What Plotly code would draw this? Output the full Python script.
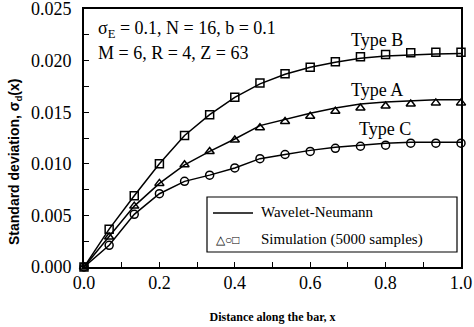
import plotly.graph_objects as go

x_pts = [0.0, 0.0667, 0.1333, 0.2, 0.2667, 0.3333, 0.4, 0.4667, 0.5333, 0.6, 0.6667, 0.7333, 0.8, 0.8667, 0.9333, 1.0]

sim_B = [0.0, 0.00367, 0.0069, 0.0100, 0.01274, 0.01476, 0.01644, 0.01784, 0.01872, 0.01936, 0.01988, 0.02037, 0.0206, 0.02076, 0.02082, 0.02082]
sim_A = [0.0, 0.0029, 0.0059, 0.0081, 0.0099, 0.0112, 0.0123, 0.0135, 0.0141, 0.0146, 0.0151, 0.0154, 0.0156, 0.0158, 0.0159, 0.0159]
sim_C = [0.0, 0.0021, 0.0051, 0.0071, 0.0083, 0.0089, 0.0096, 0.0105, 0.0109, 0.0112, 0.0115, 0.0117, 0.0118, 0.0120, 0.0120, 0.0120]

wn_B = [0.0, 0.00367, 0.0069, 0.0100, 0.01274, 0.01476, 0.01644, 0.01775, 0.01868, 0.01935, 0.01985, 0.02022, 0.02045, 0.02058, 0.02065, 0.02068]
wn_A = [0.0, 0.0029, 0.0059, 0.0081, 0.0099, 0.0112, 0.0124, 0.0137, 0.0143, 0.0149, 0.0154, 0.0158, 0.0160, 0.0161, 0.0162, 0.0162]
wn_C = [0.0, 0.0021, 0.0051, 0.0071, 0.0083, 0.0089, 0.0096, 0.0105, 0.0109, 0.0113, 0.0116, 0.0118, 0.0120, 0.0121, 0.0121, 0.0121]

y_ticks = [0.0, 0.005, 0.010, 0.015, 0.020, 0.025]
y_labels = ["0.000", "0.005", "0.010", "0.015", "0.020", "0.025"]
x_ticks = [0.0, 0.2, 0.4, 0.6, 0.8, 1.0]
x_labels = ["0.0", "0.2", "0.4", "0.6", "0.8", "1.0"]

SERIF = "Liberation Serif, Times New Roman, serif"
SANS = "Liberation Sans, Arial, sans-serif"

fig = go.Figure()
for wn in (wn_B, wn_A, wn_C):
    fig.add_trace(go.Scatter(x=x_pts, y=wn, mode="lines",
                             line=dict(color="black", width=1.5), showlegend=False))
for sim, sym in ((sim_B, "square-open"), (sim_A, "triangle-up-open"), (sim_C, "circle-open")):
    fig.add_trace(go.Scatter(x=x_pts, y=sim, mode="markers",
                             marker=dict(symbol=sym, size=8, color="black",
                                         line=dict(color="black", width=1.5)),
                             showlegend=False, cliponaxis=False))

W, H = 474, 327
L, R, T, B = 84, 13, 9, 60
pw, ph = W - L - R, H - T - B

def px(xp):
    return (xp - L) / pw

def py(yp):
    return 1 - (yp - T) / ph

annos = [
    dict(text="σ<sub>E</sub> = 0.1, N = 16, b = 0.1", x=px(96), y=py(29), size=18),
    dict(text="M = 6, R = 4, Z = 63", x=px(96), y=py(53), size=18),
    dict(text="Type B", x=px(349), y=py(40), size=18),
    dict(text="Type A", x=px(349), y=py(90), size=18),
    dict(text="Type C", x=px(357), y=py(129), size=18),
    dict(text="Wavelet-Neumann", x=px(259), y=py(212), size=15),
    dict(text="Simulation (5000 samples)", x=px(259), y=py(239), size=15),
    dict(text="△○□", x=px(214), y=py(240), size=12),
]
for a in annos:
    fig.add_annotation(text=a["text"], x=a["x"], y=a["y"], xref="paper", yref="paper",
                       xanchor="left", yanchor="middle", showarrow=False,
                       font=dict(family=SERIF, size=a["size"], color="black"))

# y-axis title
fig.add_annotation(text="<b>Standard deviation, σ<sub>d</sub>(x)</b>", x=px(15), y=py(162),
                   xref="paper", yref="paper", xanchor="center", yanchor="middle",
                   textangle=-90, showarrow=False,
                   font=dict(family=SANS, size=14, color="black"))

fig.add_shape(type="rect", xref="paper", yref="paper", x0=px(207), x1=px(457), y0=py(252), y1=py(197),
              line=dict(color="black", width=1.2), fillcolor="white", layer="below")
fig.add_shape(type="line", xref="paper", yref="paper", x0=px(213), x1=px(253), y0=py(213), y1=py(213),
              line=dict(color="black", width=1.5))

fig.update_layout(
    width=W, height=H,
    margin=dict(l=L, r=R, t=T, b=B),
    paper_bgcolor="white", plot_bgcolor="white",
    font=dict(family=SERIF, color="black"),
)
fig.update_xaxes(range=[0, 1], tickvals=x_ticks, ticktext=x_labels, automargin=False,
                 ticks="inside", ticklen=5, tickwidth=1, tickcolor="black",
                 minor=dict(dtick=0.1, ticks="inside", ticklen=5, tickcolor="black"),
                 showline=True, linecolor="black", linewidth=2, mirror=True,
                 showgrid=False, zeroline=False, ticklabeloverflow="allow",
                 ticklabelstandoff=-2,
                 tickfont=dict(family=SERIF, size=18),
                 title=dict(text="<b>Distance along the bar, x</b>", standoff=21,
                            font=dict(family=SERIF, size=12)))
fig.update_yaxes(range=[0, 0.025], tickvals=y_ticks, ticktext=y_labels, automargin=False,
                 ticks="inside", ticklen=5, tickwidth=1, tickcolor="black",
                 minor=dict(dtick=0.0025, ticks="inside", ticklen=5, tickcolor="black"),
                 showline=True, linecolor="black", linewidth=2, mirror=True,
                 showgrid=False, zeroline=False, ticklabeloverflow="allow",
                 ticklabelstandoff=7,
                 tickfont=dict(family=SERIF, size=18))

fig.write_html("out.html", config={"displayModeBar": False},
               post_script="document.body.style.margin='0';document.body.style.overflow='hidden';")
